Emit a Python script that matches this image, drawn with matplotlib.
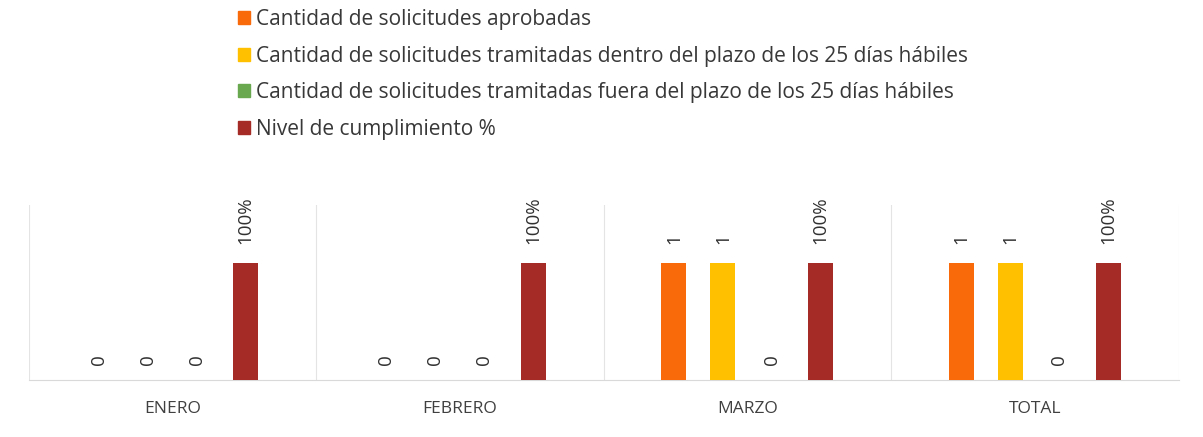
import numpy as np
import matplotlib
matplotlib.use("Agg")
import matplotlib.pyplot as plt
from matplotlib.patches import Patch

# ------------------------------------------------------------------ data
categorias = ["ENERO", "FEBRERO", "MARZO", "TOTAL"]
series = [
    "Cantidad de solicitudes aprobadas",
    "Cantidad de solicitudes tramitadas dentro del plazo de los 25 días hábiles",
    "Cantidad de solicitudes tramitadas fuera del plazo de los 25 días hábiles",
    "Nivel de cumplimiento %",
]
aprobadas = [0, 0, 1, 1]
dentro_plazo = [0, 0, 1, 1]
fuera_plazo = [0, 0, 0, 0]
cumplimiento = [1.0, 1.0, 1.0, 1.0]   # 100 %
etiquetas_cumpl = ["100%", "100%", "100%", "100%"]

colores = ["#F96A0A", "#FFC000", "#6AA84F", "#A52C26"]

# ------------------------------------------------------------------ figure
plt.rcParams['font.family'] = ['Open Sans', 'DejaVu Sans']
fig = plt.figure(figsize=(12.03, 4.37), dpi=100)
ax = fig.add_axes((0.0237, 0.1304, 0.956, 0.4005))

x = np.arange(len(categorias))
paso = 0.17
ancho = 0.087
valores = [aprobadas, dentro_plazo, fuera_plazo, cumplimiento]

for i, vals in enumerate(valores):
    pos = x + (i - 1.5) * paso
    ax.bar(pos, vals, width=ancho, color=colores[i], zorder=3)
    for j, v in enumerate(vals):
        txt = etiquetas_cumpl[j] if i == 3 else "%d" % v
        off = 14 if v > 0 else 11
        ax.annotate(txt, (pos[j], v), xytext=(0, off), textcoords="offset points",
                    rotation=90, ha="center", va="bottom", fontsize=13.5,
                    color="#303030")

ax.set_xlim(-0.5, len(categorias) - 0.5)
ax.set_ylim(0, 1.5)

# separators between categories (vertical gridlines)
for b in np.arange(-0.5, len(categorias), 1.0):
    ax.axvline(b, color="#E4E4E4", lw=0.8, zorder=1)

for s in ["top", "right", "left"]:
    ax.spines[s].set_visible(False)
ax.spines["bottom"].set_color("#D9D9D9")
ax.set_yticks([])
ax.set_xticks(x)
ax.set_xticklabels(categorias, fontsize=12.5, color="#404040")
ax.tick_params(axis="x", length=0, pad=15)

handles = [Patch(color=c) for c in colores]
fig.legend(handles, series, loc="upper left",
           bbox_to_anchor=(238 / 1203, 1 - 9 / 437), borderaxespad=0,
           borderpad=0, frameon=False, fontsize=15, handlelength=0.58,
           handleheight=0.58, handletextpad=0.28, labelspacing=0.75,
           labelcolor="#383838")

fig.savefig("out.png", dpi=100)
